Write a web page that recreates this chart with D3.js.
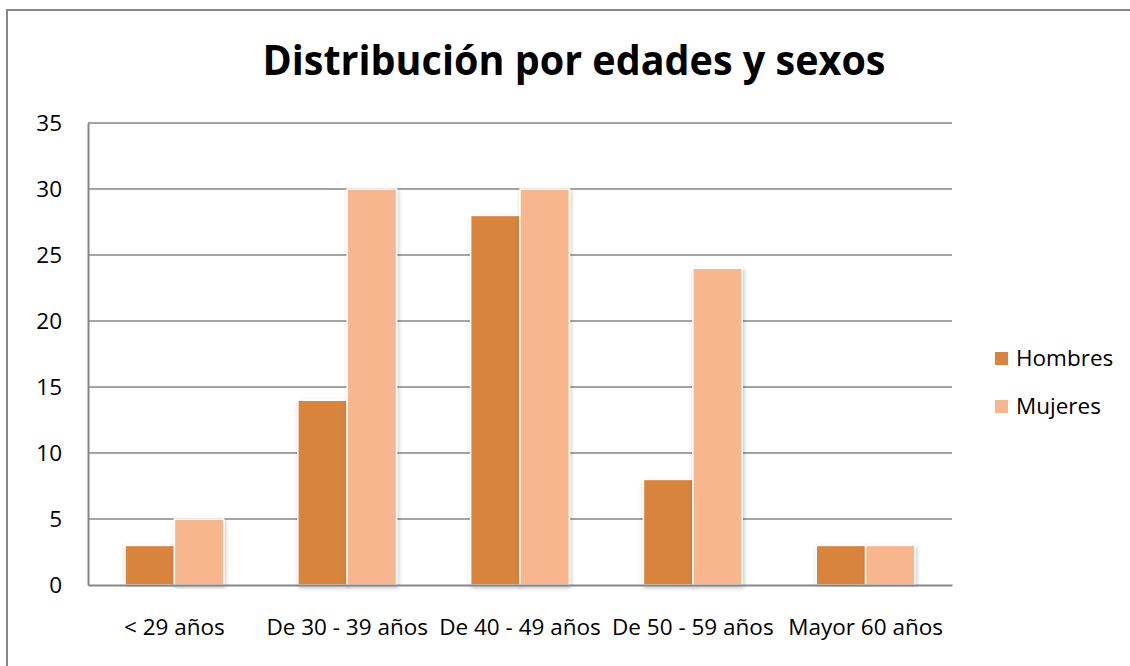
<!DOCTYPE html>
<html>
<head>
<meta charset="utf-8">
<script src="https://cdn.jsdelivr.net/npm/d3@7"></script>
<style>
  body { margin: 0; background: #fff; font-family: "Open Sans", sans-serif; }
  svg { display: block; }
</style>
</head>
<body>
<div id="chart"></div>
<script>
const categories = ["< 29 años", "De 30 - 39 años", "De 40 - 49 años", "De 50 - 59 años", "Mayor 60 años"];
const seriesNames = ["Hombres", "Mujeres"];
const hombres = [3, 14, 28, 8, 3];
const mujeres = [5, 30, 30, 24, 3];
const yTicks = [0, 5, 10, 15, 20, 25, 30, 35];
const colors = ["#D9843E", "#F8B68F"];

const W = 1130, H = 666;
const plot = { left: 88, right: 952, top: 123, bottom: 585 };
const fs = 22.5;

const svg = d3.select("#chart").append("svg")
  .attr("width", W).attr("height", H);

const defs = svg.append("defs");
const f = defs.append("filter").attr("id", "shadow")
  .attr("x", "-20%").attr("y", "-5%").attr("width", "140%").attr("height", "110%");
f.append("feDropShadow").attr("dx", 1).attr("dy", 2).attr("stdDeviation", 2)
  .attr("flood-color", "#000").attr("flood-opacity", 0.25);

// outer frame
svg.append("rect").attr("x", 7).attr("y", 10).attr("width", W).attr("height", H)
  .attr("fill", "none").attr("stroke", "#878787").attr("stroke-width", 2);

// title
svg.append("text")
  .attr("x", 574).attr("y", 75)
  .attr("text-anchor", "middle")
  .attr("font-size", 42).attr("font-weight", "bold")
  .attr("textLength", 623).attr("lengthAdjust", "spacingAndGlyphs")
  .attr("fill", "#000")
  .text("Distribución por edades y sexos");

const x0 = d3.scaleBand().domain(categories).range([plot.left, plot.right]).paddingInner(0).paddingOuter(0);
const barW = x0.bandwidth() / 3.5;
const y = d3.scaleLinear().domain([0, 35]).range([plot.bottom, plot.top]);

// gridlines
svg.append("g").selectAll("line").data(yTicks.filter(d => d > 0)).join("line")
  .attr("x1", plot.left).attr("x2", plot.right)
  .attr("y1", d => y(d)).attr("y2", d => y(d))
  .attr("stroke", "#868686").attr("stroke-width", 1.5);

// y axis
const yAxis = svg.append("g")
  .attr("transform", `translate(${plot.left},0)`)
  .call(d3.axisLeft(y).tickValues(yTicks).tickSize(0).tickPadding(26));
yAxis.select(".domain").attr("stroke", "#868686").attr("stroke-width", 2);
yAxis.selectAll("text").attr("font-size", fs).attr("font-family", "Open Sans, sans-serif").attr("fill", "#000");

// bars
const data = categories.map((c, i) => ({ cat: c, vals: [hombres[i], mujeres[i]] }));
const groups = svg.append("g").selectAll("g").data(data).join("g");
groups.selectAll("rect").data(d => d.vals.map((v, j) => ({ cat: d.cat, v, j }))).join("rect")
  .attr("x", d => x0(d.cat) + x0.bandwidth() / 2 - barW + d.j * barW)
  .attr("y", d => y(d.v))
  .attr("width", barW)
  .attr("height", d => y(0) - y(d.v))
  .attr("fill", d => colors[d.j])
  .attr("stroke", "#fff").attr("stroke-width", 1.5)
  .attr("filter", "url(#shadow)");

// x axis
const xAxis = svg.append("g")
  .attr("transform", `translate(0,${plot.bottom})`)
  .call(d3.axisBottom(x0).tickSize(0).tickPadding(34));
xAxis.select(".domain").attr("stroke", "#868686").attr("stroke-width", 2);
xAxis.selectAll("text").attr("font-size", fs).attr("font-family", "Open Sans, sans-serif").attr("fill", "#000");

// legend
const leg = svg.append("g").selectAll("g").data(seriesNames).join("g")
  .attr("transform", (d, i) => `translate(995,${352 + i * 48})`);
leg.append("rect").attr("width", 13).attr("height", 13).attr("fill", (d, i) => colors[i]);
leg.append("text").attr("x", 21).attr("y", 13.5)
  .attr("font-size", fs).attr("fill", "#000").text(d => d);
</script>
</body>
</html>
